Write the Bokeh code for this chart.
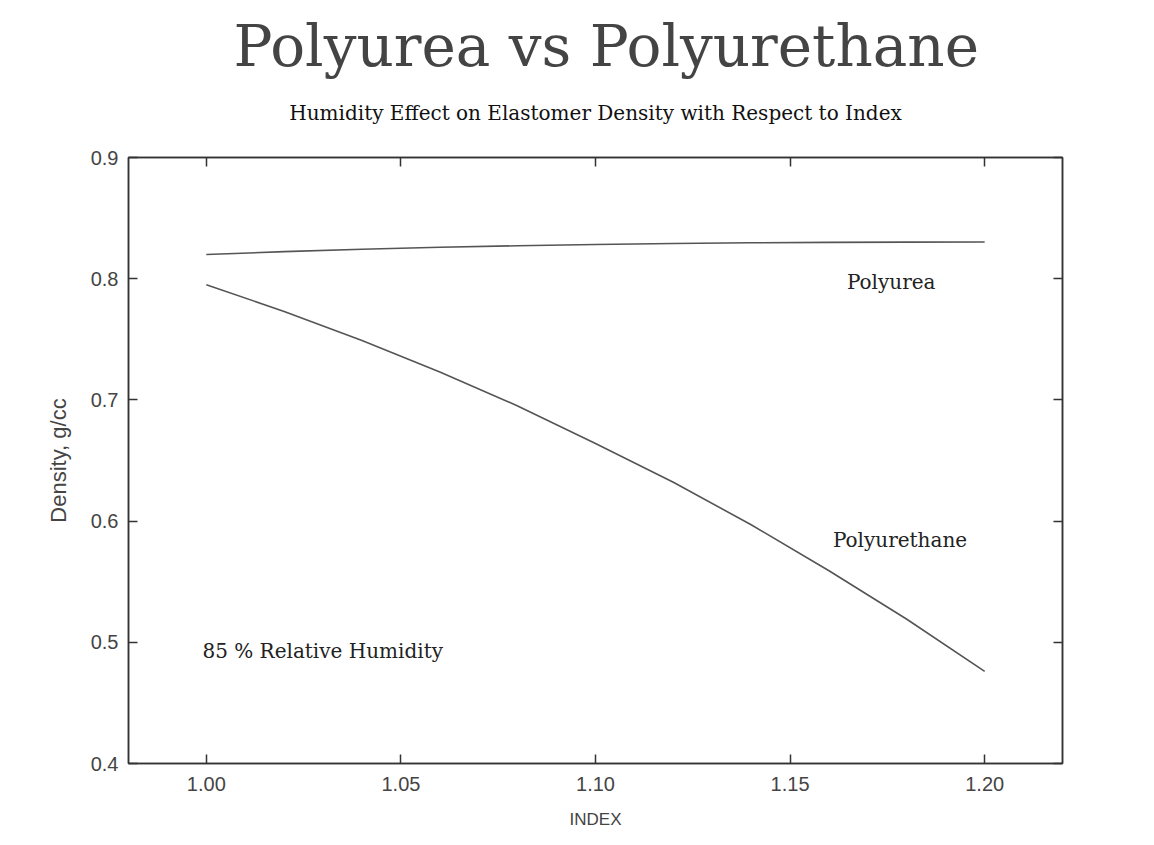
from bokeh.plotting import figure
from bokeh.models import LinearAxis, FixedTicker, PrintfTickFormatter, Range1d, Label, Title
from bokeh.embed import file_html
from bokeh.resources import INLINE

# ---- data ----
index_vals = [1.00, 1.02, 1.04, 1.06, 1.08, 1.10, 1.12, 1.14, 1.16, 1.18, 1.20]
polyurea = [0.820, 0.8223, 0.8243, 0.8259, 0.8272, 0.8282, 0.8290, 0.8296, 0.8300, 0.8302, 0.8303]
polyurethane = [0.795, 0.773, 0.749, 0.723, 0.695, 0.664, 0.632, 0.597, 0.559, 0.519, 0.476]
x_ticks = [1.00, 1.05, 1.10, 1.15, 1.20]
y_ticks = [0.4, 0.5, 0.6, 0.7, 0.8, 0.9]

title_text = "Polyurea vs Polyurethane"
subtitle_text = "Humidity Effect on Elastomer Density with Respect to Index"
label_polyurea = "Polyurea"
label_polyurethane = "Polyurethane"
label_humidity = "85 % Relative Humidity"

INK = "#333333"
LINE = "#555555"

p = figure(width=1138, height=837, output_backend="svg", toolbar_location=None,
           x_range=Range1d(0.98, 1.22), y_range=Range1d(0.4, 0.9),
           min_border_left=128, min_border_right=76, min_border_top=157, min_border_bottom=74,
           x_axis_label="INDEX", y_axis_label="Density, g/cc")
p.background_fill_color = "white"
p.border_fill_color = "white"
p.grid.visible = False
p.outline_line_color = INK
p.outline_line_width = 1.5

for ax in (p.xaxis[0], p.yaxis[0]):
    ax.major_tick_in = 9
    ax.major_tick_out = 0
    ax.minor_tick_line_color = None
    ax.axis_line_color = INK
    ax.axis_line_width = 1.5
    ax.major_tick_line_color = INK
    ax.major_tick_line_width = 1.5
    ax.major_label_text_font = "Liberation Sans"
    ax.major_label_text_font_size = "20px"
    ax.major_label_text_color = "#444444"
    ax.axis_label_text_font = "Liberation Sans"
    ax.axis_label_text_font_style = "normal"
    ax.axis_label_text_color = "#444444"

p.xaxis[0].major_label_standoff = 13
p.xaxis[0].axis_label_standoff = 16
p.xaxis[0].axis_label_text_font_size = "17px"
p.yaxis[0].major_label_standoff = 10
p.yaxis[0].axis_label_standoff = 17
p.yaxis[0].axis_label_text_font_size = "22px"

p.xaxis[0].ticker = FixedTicker(ticks=x_ticks)
p.xaxis[0].formatter = PrintfTickFormatter(format="%.2f")
p.yaxis[0].ticker = FixedTicker(ticks=y_ticks)
p.yaxis[0].formatter = PrintfTickFormatter(format="%.1f")

top_ax = LinearAxis(ticker=FixedTicker(ticks=x_ticks))
right_ax = LinearAxis(ticker=FixedTicker(ticks=y_ticks))
for ax in (top_ax, right_ax):
    ax.major_tick_in = 9
    ax.major_tick_out = 0
    ax.minor_tick_line_color = None
    ax.axis_line_color = INK
    ax.axis_line_width = 1.5
    ax.major_tick_line_color = INK
    ax.major_tick_line_width = 1.5
    ax.major_label_text_font_size = "0px"
    ax.major_label_standoff = 0
    ax.major_label_text_color = None
p.add_layout(top_ax, "above")
p.add_layout(right_ax, "right")

p.line(index_vals, polyurea, line_color=LINE, line_width=1.6)
p.line(index_vals, polyurethane, line_color=LINE, line_width=1.6)

serif = "DejaVu Serif"
p.add_layout(Label(x=1.1646, y=0.797, text=label_polyurea, text_font=serif,
                   text_font_size="20px", text_color="#222222", text_baseline="middle"))
p.add_layout(Label(x=1.161, y=0.584, text=label_polyurethane, text_font=serif,
                   text_font_size="20px", text_color="#222222", text_baseline="middle"))
p.add_layout(Label(x=0.999, y=0.493, text=label_humidity, text_font=serif,
                   text_font_size="20px", text_color="#222222", text_baseline="middle"))

sub = Title(text=subtitle_text, align="center", text_font=serif, text_font_size="20px",
            text_font_style="normal", text_color="#111111", standoff=65)
main = Title(text=title_text, align="left", text_font=serif, text_font_size="58px",
             text_font_style="normal", text_color="#444444", standoff=-26, offset=105)
p.add_layout(sub, "above")
p.add_layout(main, "above")

open("out.html", "w").write(file_html(p, INLINE))
